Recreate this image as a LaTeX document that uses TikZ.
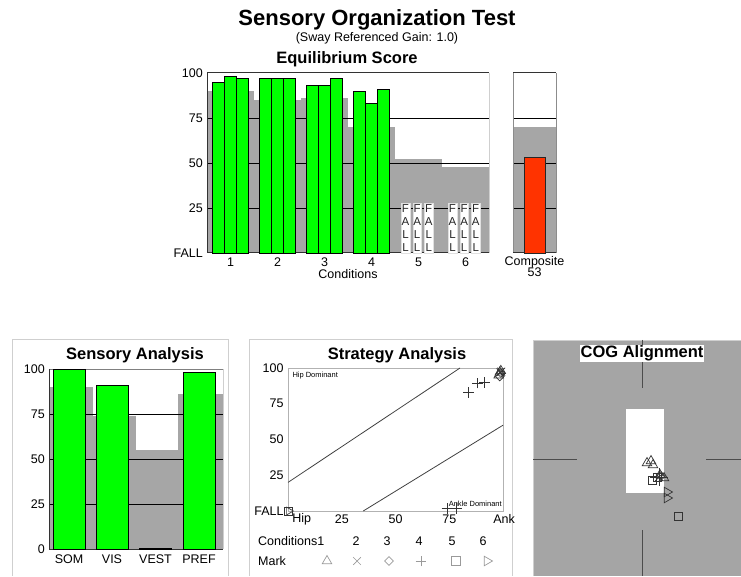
\documentclass[tikz,border=0pt]{standalone}
\usepackage{fontspec}
\setmainfont{Liberation Sans}
\usetikzlibrary{positioning,shapes.geometric,shapes.misc}

\definecolor{normgray}{HTML}{A6A6A6}
\definecolor{bargreen}{HTML}{00FF00}
\definecolor{compred}{HTML}{FF3300}
\definecolor{framegray}{HTML}{CFCFCF}
\definecolor{markgray}{HTML}{9A9A9A}
\definecolor{coggray}{HTML}{A5A5A5}

\begin{document}
\begin{tikzpicture}[x=1pt,y=1pt,
    lbl/.style={font=\fontsize{12.5}{15}\selectfont, inner sep=1pt},
    ptitle/.style={font=\bfseries\fontsize{16.5}{20}\selectfont, inner sep=1pt},
    eqbar/.style={draw=black, fill=bargreen, line width=0.8pt},
    compbar/.style={draw=black!85, fill=compred, line width=0.8pt},
    gridline/.style={black, line width=0.8pt},
    axisline/.style={black!80, line width=1pt},
    panelframe/.style={draw=framegray, line width=1pt},
    fallbox/.style={fill=white, draw=black!12, text=black!85, align=center, anchor=south,
      font=\fontsize{11.5}{13.1}\selectfont, inner xsep=0.4pt, inner ysep=1pt, minimum width=8pt},
    mk/.style={draw=black!80, line width=0.7pt, inner sep=0pt},
    tri/.style={mk, regular polygon, regular polygon sides=3, minimum size=11pt},
    rtri/.style={tri, shape border rotate=-90},
    sqmk/.style={mk, rectangle, minimum size=8pt},
    diam/.style={mk, diamond, minimum size=9pt},
    xmk/.style={mk, cross out, minimum size=7pt},
    plusmk/.style={mk, cross out, minimum size=7pt, rotate=45},
    legmk/.style={draw=markgray}]
\useasboundingbox (0,0) rectangle (741,576);

% Titles
\node[font=\bfseries\fontsize{22}{26}\selectfont] (title) at (377,556) {Sensory Organization Test};
\node[lbl] (gain) at (377,537.7) {(Sway Referenced Gain: 1.0)};
\node[ptitle] (eqtitle) at (347,517) {Equilibrium Score};

% Equilibrium score chart
\begin{scope}[shift={(207,323)},yscale=1.8]
  \foreach \n [count=\k] in {90,85,86,70,52,48}
    \fill[normgray] ({47*(\k-1)},0) rectangle ({47*\k},\n);
  \foreach \v in {25,50,75}
    \draw[gridline] (0,\v) -- (282,\v);
  \draw[framegray] (282,0) -- (282,100);
  \draw[axisline] (282,100) -- (0,100) -- (0,0) -- (282,0);
  \foreach \k/\sa/\sb/\sc in {1/95/98/97,2/97/97/97,3/93/93/97,4/90/83/91}
    \foreach \s [count=\j] in {\sa,\sb,\sc}
      \draw[eqbar] ({47*\k-41.2+11.8*(\j-1)},0) rectangle ++(11.8,\s);
  \foreach \k in {5,6}
    \foreach \j in {1,2,3}
      \node[fallbox] (fall-\k-\j) at ({47*\k-36.5+11.6*(\j-1)},0) {F\\A\\L\\L};
  \foreach \v/\t in {100/100,75/75,50/50,25/25,0/FALL}
    \node[lbl, anchor=east] (eq-y\v) at (-3,\v) {\t};
  \foreach \k in {1,...,6}
    \node[lbl] (eq-c\k) at ({47*\k-23.5},-5) {\k};
\end{scope}
\node[lbl] (eq-cond) at (348,302) {Conditions};

% Composite
\begin{scope}[shift={(513,323)},yscale=1.8]
  \fill[normgray] (0,0) rectangle (43,70);
  \foreach \v in {25,50,75}
    \draw[gridline] (0,\v) -- (43,\v);
  \draw[black!45] (0,0) -- (0,100) (43,0) -- (43,100);
  \draw[axisline] (0,100) -- (43,100) (0,0) -- (43,0);
  \draw[compbar] (11,0) rectangle (32,53);
\end{scope}
\node[lbl] (comp-lbl) at (534.5,314) {Composite};
\node[lbl, below=-2pt of comp-lbl] (comp-val) {53};

% Sensory analysis
\draw[panelframe] (12,0) -- (12,236) -- (228,236) -- (228,0);
\node[ptitle] (sa-title) at (135,221) {Sensory Analysis};
\begin{scope}[shift={(49,27)},yscale=1.8]
  \foreach \a/\b/\n in {0/44/90,44/87/74,87/129/55,129/174/86}
    \fill[normgray] (\a,0) rectangle (\b,\n);
  \foreach \v in {25,50,75}
    \draw[gridline] (0,\v) -- (174,\v);
  \draw[black!50] (0,100) -- (174,100);
  \draw[framegray] (174,0) -- (174,100);
  \draw[axisline] (0,100) -- (0,0) -- (174,0);
  \foreach \x/\s/\n in {4/100/SOM,47/91/VIS,90.5/0.6/VEST,134/98/PREF} {
    \draw[eqbar] (\x,0) rectangle ++(32,\s);
    \node[lbl] (sa-\n) at ({\x+16},-5.6) {\n};
  }
  \foreach \v in {100,75,50,25,0}
    \node[lbl, anchor=east] (sa-y\v) at (-3,\v) {\v};
\end{scope}

% Strategy analysis
\draw[panelframe] (249,0) -- (249,236) -- (512,236) -- (512,0);
\node[ptitle] (st-title) at (397,221) {Strategy Analysis};
\begin{scope}[shift={(288,65)},xscale=2.15,yscale=1.43]
  \draw[black!30] (0,0) rectangle (100,100);
  \draw[black!75, line width=0.8pt] (0,20) -- (80,100) (35,0) -- (100,60);
  \node[font=\fontsize{7.5}{9}\selectfont, anchor=north west, inner sep=0pt] (st-hip) at (2,97) {Hip Dominant};
  \node[font=\fontsize{7.5}{9}\selectfont, anchor=south east, inner sep=0pt] (st-ank) at (99.5,3) {Ankle Dominant};
  \foreach \v/\t in {100/100,75/75,50/50,25/25,0/FALL}
    \node[lbl, anchor=east] (st-y\v) at (-1.5,\v) {\t};
  \node[lbl, anchor=west] (st-xhip) at (1.5,-5.8) {Hip};
  \foreach \v in {25,50,75}
    \node[lbl] (st-x\v) at (\v,-5.8) {\v};
  \node[lbl] (st-xank) at (100.5,-5.8) {Ank};
  % trials
  \foreach \x/\y [count=\i] in {84/83,88/89.5,91.5/90,74/2,78.5/2}
    \node[plusmk] (st-p\i) at (\x,\y) {};
  \foreach \x/\y [count=\i] in {98/95,99/98,98.5/97}
    \node[tri] (st-t\i) at (\x,\y) {};
  \foreach \x/\y [count=\i] in {98.8/97,99.2/97.5}
    \node[xmk] (st-x\i) at (\x,\y) {};
  \foreach \x/\y [count=\i] in {98.5/94,99/96.5}
    \node[diam] (st-d\i) at (\x,\y) {};
  \node[sqmk] (st-fall5) at (0,0) {};
  \node[rtri, minimum size=9pt] (st-fall6) at (0.4,0) {};
\end{scope}
% legend
\node[lbl, anchor=west] (leg-cond) at (257,35) {Conditions1};
\node[lbl, anchor=west] (leg-mark) at (257,15) {Mark};
\foreach \x/\c in {356/2,387/3,419/4,452/5,483/6}
  \node[lbl] (leg-c\c) at (\x,35) {\c};
\node[tri, legmk] (leg-m1) at (327,15) {};
\node[xmk, legmk] (leg-m2) at (357,15) {};
\node[diam, legmk] (leg-m3) at (389,15) {};
\node[plusmk, legmk] (leg-m4) at (421,15) {};
\node[sqmk, minimum size=9pt, legmk] (leg-m5) at (456,15) {};
\node[rtri, legmk] (leg-m6) at (487,15) {};

% COG alignment
\fill[coggray] (533,0) rectangle (741,236);
\draw[framegray] (533,0) -- (533,236) -- (741,236);
\fill[white] (626,83) rectangle (664,167);
\draw[black!70, line width=1pt] (642,236) -- (642,188) (642,46) -- (642,0)
  (533,117) -- (577,117) (706,117) -- (741,117);
\node[ptitle, fill=white, inner sep=0.5pt] (cog-title) at (642,222.5) {COG Alignment};
\foreach \x/\y [count=\i] in {647/113,651/115,653/111,660/101,664/98}
  \node[tri] (cog-t\i) at (\x,\y) {};
\foreach \x/\y [count=\i] in {652/96,657/99,678/60}
  \node[sqmk] (cog-s\i) at (\x,\y) {};
\node[plusmk, minimum size=12pt] (cog-p1) at (659,99) {};
\node[xmk] (cog-x1) at (659,99) {};
\node[diam] (cog-d1) at (661,100) {};
\foreach \y [count=\i] in {84,78}
  \node[rtri] (cog-r\i) at (667,\y) {};
\end{tikzpicture}
\end{document}
